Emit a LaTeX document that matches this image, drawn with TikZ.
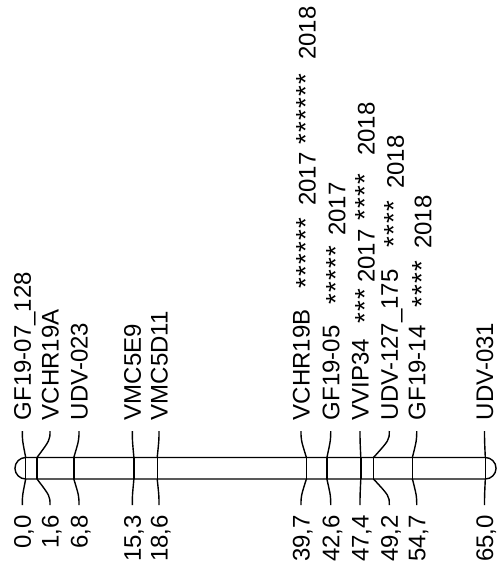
\documentclass[tikz,border=0pt]{standalone}
\usepackage{fontspec}
\setmainfont{Liberation Sans}
\newcommand{\qst}{\makebox[12pt]{\scalebox{1.15}{*}}}
\newcommand{\mk}[5]{%
  \coordinate (bt#1) at (#2,457.5);
  \coordinate (bb#1) at (#2,479);
  \coordinate (lt#1) at (#3,431);
  \coordinate (lb#1) at (#3,505);
  \draw[chrline] (bt#1) -- (bb#1);
  \draw[chrline] (lt#1) .. controls +(0,9) .. (bt#1);
  \draw[chrline] (lb#1) .. controls +(0,-9) .. (bb#1);
  \node[lbl] (n#1) at (#3+8.6,420.5) {#4};
  \node[num] (v#1) at (#3+8.6,515) {#5};
}
\begin{document}
\begin{tikzpicture}[x=1pt,y=-1pt,
  chrline/.style={line width=1.4pt, black},
  lbl/.style={rotate=90, anchor=base west, inner sep=0pt, font=\fontsize{24}{28}\selectfont},
  num/.style={rotate=90, anchor=base east, inner sep=0pt, font=\fontsize{24}{28}\selectfont},
]
\useasboundingbox (0,0) rectangle (497,572);
% chromosome bar
\draw[chrline] (25.7,457.5) -- (485.3,457.5) arc[start angle=-90, end angle=90, radius=10.75]
  -- (25.7,479) arc[start angle=90, end angle=270, radius=10.75] -- cycle;
% markers
\mk{1}{25.7}{22.3}{GF19-07\_128}{0,0}
\mk{2}{37.0}{50.0}{VCHR19A}{1,6}
\mk{3}{73.8}{79.0}{UDV-023}{6,8}
\mk{4}{133.9}{132.3}{VMC5E9}{15,3}
\mk{5}{157.2}{159.0}{VMC5D11}{18,6}
\mk{6}{306.4}{301.0}{VCHR19B}{39,7}
\mk{7}{326.9}{330.7}{GF19-05}{42,6}
\mk{8}{360.8}{360.0}{VVIP34}{47,4}
\mk{9}{373.5}{389.3}{UDV-127\_175}{49,2}
\mk{10}{412.4}{416.7}{GF19-14}{54,7}
\mk{11}{485.3}{484.5}{UDV-031}{65,0}
% QTL annotations
\node[lbl] (a6a) at (301+14.6,289.5) {\qst\qst\qst\qst\qst\qst};
\node[lbl] (a6b) at (301+14.6,206) {2017};
\node[lbl] (a6c) at (301+14.6,145) {\qst\qst\qst\qst\qst\qst};
\node[lbl] (a6d) at (301+14.6,60) {2018};
\node[lbl] (a7a) at (330.7+14.6,305) {\qst\qst\qst\qst\qst};
\node[lbl] (a7b) at (330.7+14.6,236) {2017};
\node[lbl] (a8a) at (360+14.6,324.5) {\qst\qst\qst};
\node[lbl] (a8b) at (360+14.6,283) {2017};
\node[lbl] (a8c) at (360+14.6,221.5) {\qst\qst\qst\qst};
\node[lbl] (a8d) at (360+14.6,156) {2018};
\node[lbl] (a9a) at (389.3+14.6,248.5) {\qst\qst\qst\qst};
\node[lbl] (a9b) at (389.3+14.6,189) {2018};
\node[lbl] (a10a) at (416.7+14.6,308.5) {\qst\qst\qst\qst};
\node[lbl] (a10b) at (416.7+14.6,249) {2018};
\end{tikzpicture}
\end{document}
